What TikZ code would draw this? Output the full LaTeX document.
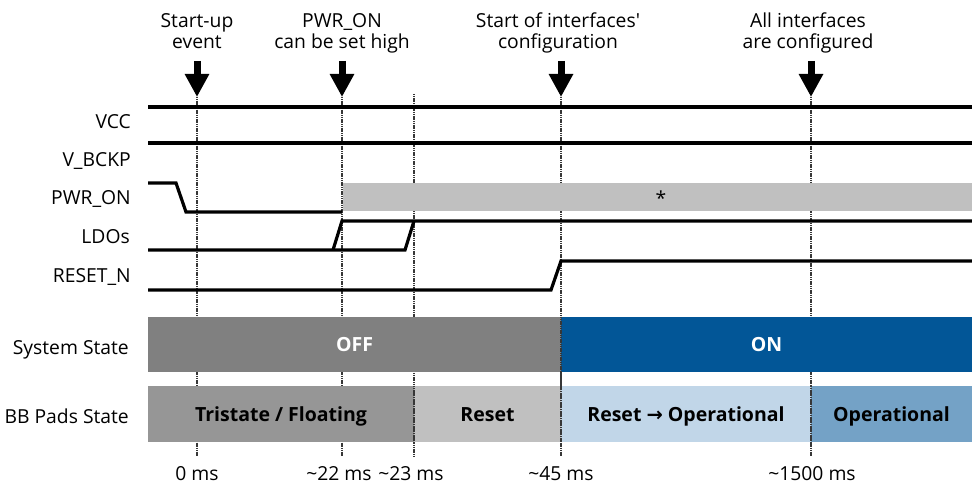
\documentclass[tikz,border=0pt]{standalone}
\usepackage{fontspec}
\setmainfont{Open Sans}
\newfontfamily\arrowfont{DejaVu Sans}
\usetikzlibrary{arrows.meta}
\definecolor{offgray}{RGB}{128,128,128}
\definecolor{onblue}{RGB}{2,86,151}
\definecolor{trigray}{RGB}{150,150,150}
\definecolor{rstgray}{RGB}{192,192,192}
\definecolor{lightblue}{RGB}{193,214,232}
\definecolor{midblue}{RGB}{116,162,198}
\definecolor{markgray}{RGB}{55,55,55}
\begin{document}
\begin{tikzpicture}[x=1pt,y=-1pt,
  sig/.style={line width=3.2pt},
  marker/.style={draw=markgray, line width=1.6pt, dash pattern=on 1.3pt off 0.5pt},
  bigarrow/.style={line width=7pt, -{Triangle[width=23pt,length=23pt]}},
  regfont/.style={font=\fontsize{19.3}{21}\selectfont},
  toplabel/.style={regfont, align=center, inner sep=0pt, anchor=base},
  siglabel/.style={regfont, anchor=base east, inner sep=0pt},
  timelabel/.style={regfont, anchor=base, inner sep=0pt},
  statebar/.style={rectangle, inner sep=0pt, outer sep=0pt, minimum height=55.5pt,
    text height=15pt, text depth=0pt, font=\fontsize{19.5}{22}\selectfont\bfseries}
]
\path[use as bounding box] (0,0) rectangle (972,486);

% time markers
\coordinate (t0top) at (197,97);    \coordinate (t0bot) at (197,456);
\coordinate (t22top) at (342,97);   \coordinate (t22bot) at (342,456);
\coordinate (t23top) at (414,94);   \coordinate (t23bot) at (414,456);
\coordinate (t45top) at (561,97);   \coordinate (t45bot) at (561,456);
\coordinate (t1500top) at (811,97); \coordinate (t1500bot) at (811,456);
\foreach \t in {t0,t22,t23,t45,t1500}
  \draw[marker] (\t top) -- (\t bot);

% event arrows and their captions (base = baseline of the second line)
\coordinate (a0) at (197,61);
\coordinate (a22) at (342,61);
\coordinate (a45) at (561,61);
\coordinate (a1500) at (811,61);
\draw[bigarrow] (a0) -- (t0top);
\draw[bigarrow] (a22) -- (t22top);
\draw[bigarrow] (a45) -- (t45top);
\draw[bigarrow] (a1500) -- (t1500top);
\node[toplabel] (evstart) at (197,49) {Start-up\\event};
\node[toplabel] (evpwr) at (342,49) {PWR\_ON\\can be set high};
\node[toplabel] (evcfg) at (558,49) {Start of interfaces\textquotesingle\\configuration};
\node[toplabel] (evdone) at (808,49) {All interfaces\\are configured};

% signal names
\node[siglabel] (lvcc) at (131,129) {VCC};
\node[siglabel] (lbckp) at (131,167) {V\_BCKP};
\node[siglabel] (lpwr) at (131,205) {PWR\_ON};
\node[siglabel] (lldo) at (130,244) {LDOs};
\node[siglabel] (lrst) at (131,283) {RESET\_N};
\node[siglabel] (lsys) at (129,355) {System State};
\node[siglabel] (lpads) at (129,423) {BB Pads State};

% waveforms
\node[rectangle, fill=rstgray, inner sep=0pt, minimum width=629pt, minimum height=28pt] (pwrx) at (657.5,197) {};
\node[regfont, anchor=base, inner sep=0pt] (star) at (661,206) {*};
\draw[sig] (148,107) -- (972,107);
\draw[sig] (148,143) -- (972,143);
\draw[sig] (148,183) -- (176,183) -- (186,212) -- (342,212);
\draw[sig] (148,250) -- (405,250) -- (414,221);
\draw[sig] (333,250) -- (342,221) -- (972,221);
\draw[sig] (148,290) -- (551,290) -- (561,261) -- (972,261);

% system and pad states
\node[statebar, fill=offgray, text=white, minimum width=413pt] (soff) at (354.5,344.5) {OFF};
\node[statebar, fill=onblue, text=white, minimum width=411pt] (son) at (766.5,344.5) {ON};
\node[statebar, fill=trigray, minimum width=266pt] (ptri) at (281,414) {Tristate / Floating};
\node[statebar, fill=rstgray, minimum width=147pt] (prst) at (487.5,414) {Reset};
\node[statebar, fill=lightblue, minimum width=250pt] (prop) at (686,414) {Reset {\arrowfont\bfseries →} Operational};
\node[statebar, fill=midblue, minimum width=161pt] (pop) at (891.5,414) {Operational};
\draw[marker] (561,317) -- (561,442);
\draw[marker] (414,386) -- (414,442);
\draw[marker] (811,386) -- (811,442);

% time stamps
\node[timelabel] (ms0) at (197,480) {0 ms};
\node[timelabel] (ms22) at (339,480) {\textasciitilde 22 ms};
\node[timelabel] (ms23) at (411,480) {\textasciitilde 23 ms};
\node[timelabel] (ms45) at (561,480) {\textasciitilde 45 ms};
\node[timelabel] (ms1500) at (812,480) {\textasciitilde 1500 ms};
\end{tikzpicture}
\end{document}
